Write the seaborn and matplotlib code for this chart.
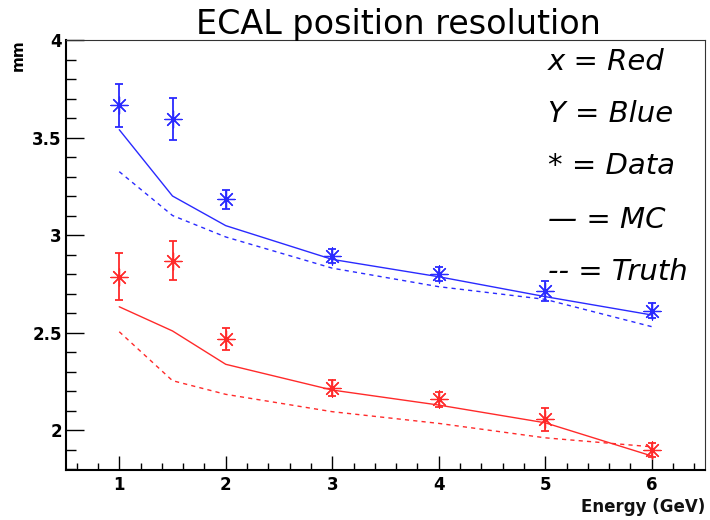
import matplotlib
matplotlib.use("Agg")
import matplotlib.pyplot as plt
import seaborn as sns
import pandas as pd
from matplotlib.ticker import MultipleLocator

energy = [1, 1.5, 2, 3, 4, 5, 6]

blue_data = [3.665, 3.595, 3.183, 2.892, 2.800, 2.713, 2.612]
blue_err = [0.11, 0.11, 0.05, 0.035, 0.035, 0.05, 0.04]
blue_mc = [3.54, 3.20, 3.048, 2.875, 2.786, 2.684, 2.590]
blue_truth = [3.325, 3.10, 2.99, 2.83, 2.735, 2.67, 2.53]

red_data = [2.786, 2.868, 2.465, 2.217, 2.157, 2.055, 1.897]
red_err = [0.12, 0.10, 0.057, 0.04, 0.04, 0.06, 0.037]
red_mc = [2.632, 2.508, 2.337, 2.205, 2.128, 2.037, 1.867]
red_truth = [2.504, 2.253, 2.183, 2.094, 2.034, 1.960, 1.914]

legend_lines = ["x = Red", "Y = Blue", "* = Data", "\u2014 = MC", "-- = Truth"]

sns.set_theme(style="white")
plt.rcParams['font.family'] = ['DejaVu Sans']
plt.rcParams['text.color'] = 'black'
plt.rcParams['xtick.color'] = 'black'
plt.rcParams['ytick.color'] = 'black'

fig = plt.figure(figsize=(7.1, 5.2), dpi=100)
ax = fig.add_axes([66/710, 50/520, 639/710, 430/520])

BLUE = "#2a2aff"
RED = "#ff2a2a"

for data, err, mc, truth, col in [
    (blue_data, blue_err, blue_mc, blue_truth, BLUE),
    (red_data, red_err, red_mc, red_truth, RED),
]:
    df = pd.DataFrame({"E": energy, "data": data, "err": err, "mc": mc, "truth": truth})
    sns.lineplot(data=df, x="E", y="mc", ax=ax, color=col, lw=1.0)
    sns.lineplot(data=df, x="E", y="truth", ax=ax, color=col, lw=1.0,
                 linestyle=(0, (3, 3)))
    ax.errorbar(df["E"], df["data"], yerr=df["err"], fmt="none", ecolor=col,
                elinewidth=1.3, capsize=2.6, capthick=1.3)
    sns.scatterplot(data=df, x="E", y="data", ax=ax, marker=(8, 2, 0), s=150,
                    color=col, linewidth=0.9, edgecolor=col)
    sns.scatterplot(data=df, x="E", y="data", ax=ax, marker="o", s=14,
                    color=col, linewidth=0)

ax.set_xticks([1, 2, 3, 4, 5, 6])
ax.set_xticklabels(["1", "2", "3", "4", "5", "6"])
ax.set_yticks([2, 2.5, 3, 3.5, 4])
ax.set_yticklabels(["2", "2.5", "3", "3.5", "4"])
ax.xaxis.set_minor_locator(MultipleLocator(0.2))
ax.yaxis.set_minor_locator(MultipleLocator(0.1))
ax.set_xlim(0.5, 6.5)
ax.set_ylim(1.795, 4.0)

ax.tick_params(axis="x", which="major", direction="in", length=10, width=1.0,
               color="black", labelcolor="black", pad=4, labelsize=12, bottom=True)
ax.tick_params(axis="x", which="minor", direction="in", length=5, width=1.0,
               color="black", bottom=True)
ax.tick_params(axis="y", which="major", direction="in", length=13, width=1.0,
               color="black", labelcolor="black", pad=3, labelsize=12, left=True)
ax.tick_params(axis="y", which="minor", direction="in", length=7, width=1.0,
               color="black", left=True)
for lab in ax.get_xticklabels() + ax.get_yticklabels():
    lab.set_fontweight("bold")
    lab.set_family("DejaVu Sans")

for side in ["left", "bottom"]:
    ax.spines[side].set_color("black")
    ax.spines[side].set_linewidth(1.5)
for side in ["top", "right"]:
    ax.spines[side].set_color("#333333")
    ax.spines[side].set_linewidth(0.8)

ax.set_xlabel("")
ax.set_ylabel("")
fig.text(705/710, 13/520, "Energy (GeV)", ha="right", va="center", fontsize=12,
         family="DejaVu Sans", fontweight="bold", color="#111111")
fig.text(18/710, 1 - 55/520, "mm", ha="center", va="center", rotation=90,
         fontsize=11, family="DejaVu Sans", fontweight="bold", color="black")
fig.text(398/710, 1 - 24/520, "ECAL position resolution", ha="center", va="center",
         fontsize=24, family="DejaVu Sans", color="black")

ys = [62, 114, 166, 220, 272]
for txt, y in zip(legend_lines, ys):
    fig.text(548/710, 1 - y/520, txt, ha="left", va="center", fontsize=21,
             style="italic", family="DejaVu Sans", color="black")

fig.savefig("out.png", dpi=100)
